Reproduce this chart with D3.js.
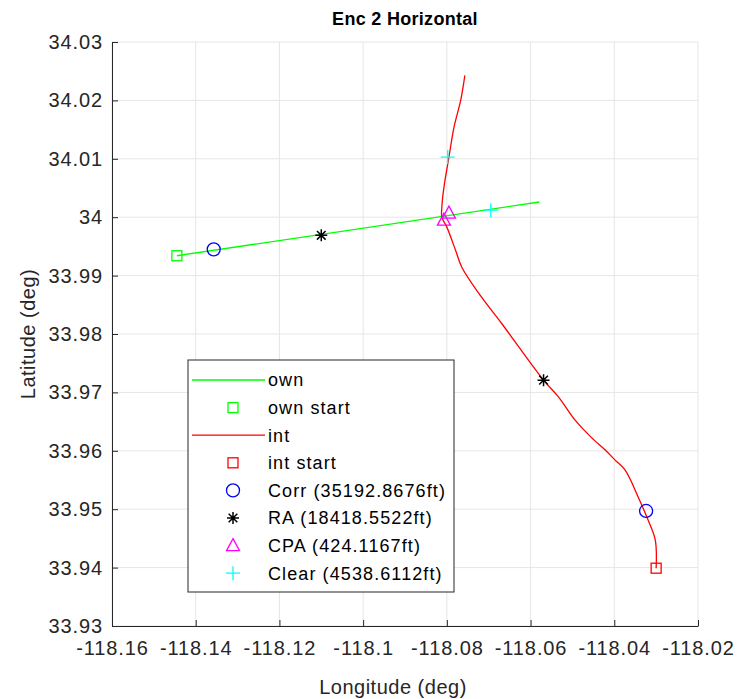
<!DOCTYPE html>
<html>
<head>
<meta charset="utf-8">
<script src="https://cdn.jsdelivr.net/npm/d3@7"></script>
<style>
	body { margin: 0; background: #fff; }
	text { font-family: 'Liberation Sans', Arial, sans-serif; }
</style>
</head>
<body>
<div id="chart"></div>
<script>
// own aircraft track [lon, lat]
const ownTrack = [[-118.1445, 33.9934], [-118.0579, 34.0026]]
// intruder track [lon, lat]
const intTrack = [
	[-118.03, 33.9399], [-118.0302, 33.9447], [-118.0319, 33.9481], [-118.0343, 33.9521],
	[-118.0374, 33.9567], [-118.0398, 33.9584], [-118.0421, 33.9601], [-118.0455, 33.9623],
	[-118.0493, 33.9652], [-118.0533, 33.9692],
	[-118.0569, 33.9721], [-118.0669, 33.9818], [-118.0717, 33.9863], [-118.0764, 33.9914],
	[-118.0779, 33.9943], [-118.08, 33.9983], [-118.0812, 34.0], [-118.0812, 34.0017],
	[-118.0807, 34.0051], [-118.0795, 34.0103], [-118.0783, 34.0154], [-118.0767, 34.02],
	[-118.0757, 34.0243]
]
const corrPts = [[-118.1357, 33.9945], [-118.0324, 33.9497]]
const raPts = [[-118.11, 33.9969], [-118.0569, 33.9721]]
const cpaPts = [[-118.0795, 34.0007], [-118.0807, 33.9995]]
const clearPts = [[-118.0695, 34.0012], [-118.0798, 34.0103]]
const xTicks = [-118.16, -118.14, -118.12, -118.1, -118.08, -118.06, -118.04, -118.02]
const yTicks = [33.93, 33.94, 33.95, 33.96, 33.97, 33.98, 33.99, 34, 34.01, 34.02, 34.03]
const legendLabels = ['own', 'own start', 'int', 'int start', 'Corr (35192.8676ft)', 'RA (18418.5522ft)', 'CPA (424.1167ft)', 'Clear (4538.6112ft)']

const width = 742, height = 699
const m = { left: 112, right: 44, top: 42, bottom: 73 }

const svg = d3.select('#chart').append('svg').attr('width', width).attr('height', height)

const x = d3.scaleLinear().domain([-118.16, -118.02]).range([m.left, width - m.right])
const y = d3.scaleLinear().domain([33.93, 34.03]).range([height - m.bottom, m.top])

// grid
const grid = svg.append('g').attr('stroke', '#e6e6e6').attr('stroke-width', 1)
grid.selectAll('.gx').data(xTicks).enter().append('line')
	.attr('x1', d => x(d)).attr('x2', d => x(d)).attr('y1', y(33.93)).attr('y2', y(34.03))
grid.selectAll('.gy').data(yTicks).enter().append('line')
	.attr('y1', d => y(d)).attr('y2', d => y(d)).attr('x1', x(-118.16)).attr('x2', x(-118.02))

// axes
const fmt = d => String(+d.toFixed(2))
const xAxis = svg.append('g').attr('transform', `translate(0,${y(33.93)})`)
	.call(d3.axisBottom(x).tickValues(xTicks).tickFormat(fmt).tickSizeInner(-6).tickSizeOuter(0).tickPadding(17))
const yAxis = svg.append('g').attr('transform', `translate(${x(-118.16)},0)`)
	.call(d3.axisLeft(y).tickValues(yTicks).tickFormat(fmt).tickSizeInner(-6).tickSizeOuter(0).tickPadding(9))
;[xAxis, yAxis].forEach(a => {
	a.select('.domain').attr('stroke', '#262626')
	a.selectAll('.tick line').attr('stroke', '#262626')
	a.selectAll('.tick text').attr('fill', '#262626').style('font-size', '20px').style('letter-spacing', '0.9px')
})
xAxis.selectAll('.tick text').attr('dy', '0.6em')

svg.append('text').attr('x', 405).attr('y', 25).attr('text-anchor', 'middle')
	.style('font-size', '18px').style('font-weight', 'bold').style('letter-spacing', '0.3px').attr('fill', '#000').text('Enc 2 Horizontal')
svg.append('text').attr('x', 393).attr('y', 694).attr('text-anchor', 'middle')
	.style('font-size', '20px').style('letter-spacing', '0.5px').attr('fill', '#262626').text('Longitude (deg)')
svg.append('text').attr('transform', `translate(35,${(m.top + height - m.bottom) / 2}) rotate(-90)`)
	.attr('text-anchor', 'middle').style('font-size', '20px').style('letter-spacing', '0.5px').attr('fill', '#262626').text('Latitude (deg)')

const line = d3.line().x(d => x(d[0])).y(d => y(d[1])).curve(d3.curveCatmullRom)

svg.append('path').datum(ownTrack).attr('d', line).attr('fill', 'none').attr('stroke', '#00ff00').attr('stroke-width', 1.3)
svg.append('path').datum(intTrack).attr('d', line).attr('fill', 'none').attr('stroke', '#ff0000').attr('stroke-width', 1.3)

// marker shapes
const markers = {
	square: (g, c) => g.append('rect').attr('x', -5).attr('y', -5).attr('width', 10).attr('height', 10).attr('fill', 'none').attr('stroke', c).attr('stroke-width', 1.3),
	circle: (g, c) => g.append('circle').attr('r', 6.5).attr('fill', 'none').attr('stroke', c).attr('stroke-width', 1.3),
	star: (g, c) => {
		const s = 6
		g.append('path').attr('d', `M${-s},0H${s}M0,${-s}V${s}M${-s * 0.72},${-s * 0.72}L${s * 0.72},${s * 0.72}M${-s * 0.72},${s * 0.72}L${s * 0.72},${-s * 0.72}`)
			.attr('stroke', c).attr('stroke-width', 1.5)
	},
	triangle: (g, c) => g.append('path').attr('d', 'M0,-7L6.5,5L-6.5,5Z').attr('fill', 'none').attr('stroke', c).attr('stroke-width', 1.3),
	plus: (g, c) => g.append('path').attr('d', 'M-7,0H7M0,-7V7').attr('stroke', c).attr('stroke-width', 1.3)
}

const drawPts = (pts, shape, color) => {
	svg.append('g').selectAll('g').data(pts).enter().append('g')
		.attr('transform', d => `translate(${x(d[0])},${y(d[1])})`)
		.each(function () { markers[shape](d3.select(this), color) })
}
drawPts([ownTrack[0]], 'square', '#00ff00')
drawPts([intTrack[0]], 'square', '#ff0000')
drawPts(corrPts, 'circle', '#0000ff')
drawPts(raPts, 'star', '#000')
drawPts(cpaPts, 'triangle', '#ff00ff')
drawPts(clearPts, 'plus', '#00ffff')

// legend
const lg = svg.append('g').attr('transform', 'translate(188,360)')
lg.append('rect').attr('width', 266).attr('height', 232).attr('fill', '#fff').attr('stroke', '#262626').attr('stroke-width', 1)
const legendSym = [
	['line', '#00ff00'], ['square', '#00ff00'], ['line', '#ff0000'], ['square', '#ff0000'],
	['circle', '#0000ff'], ['star', '#000'], ['triangle', '#ff00ff'], ['plus', '#00ffff']
]
legendLabels.forEach((lab, i) => {
	const yy = 20 + i * 27.6
	const [shape, c] = legendSym[i]
	if (shape === 'line') {
		lg.append('line').attr('x1', 4).attr('x2', 77).attr('y1', yy).attr('y2', yy).attr('stroke', c).attr('stroke-width', 1.3)
	} else {
		markers[shape](lg.append('g').attr('transform', `translate(45,${yy})`), c)
	}
	lg.append('text').attr('x', 80).attr('y', yy).attr('dy', '0.35em').style('font-size', '18px').style('letter-spacing', '1.1px').attr('fill', '#000').text(lab)
})
</script>
</body>
</html>
